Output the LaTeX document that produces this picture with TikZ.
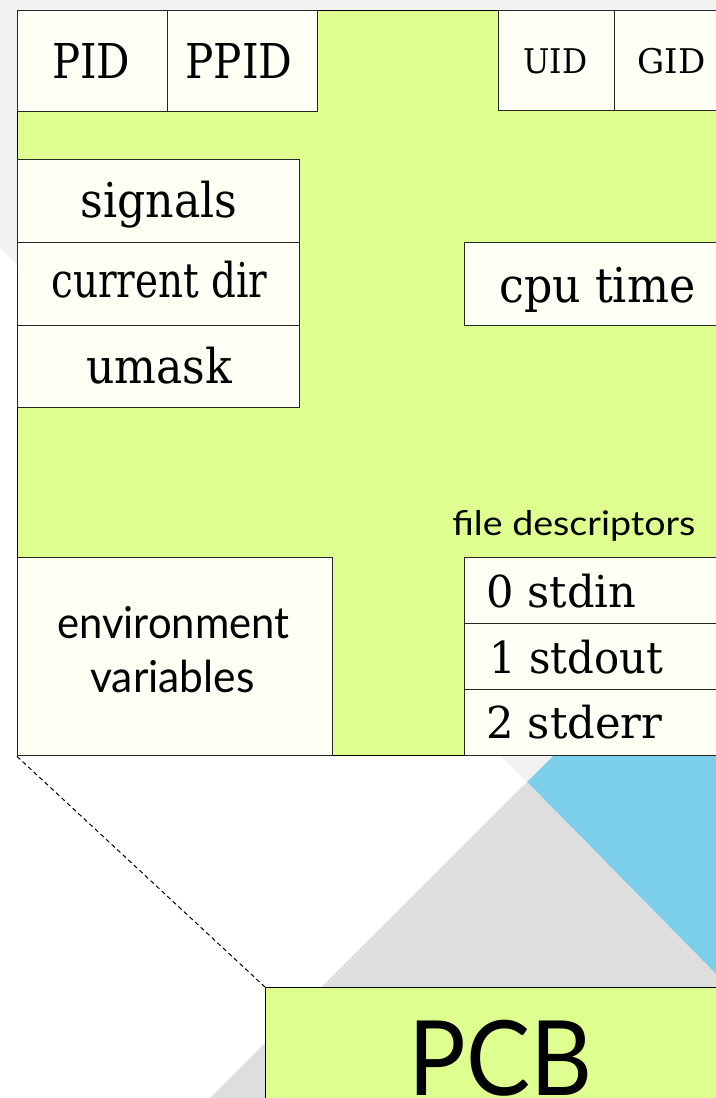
\documentclass[tikz,border=0pt]{standalone}
\usepackage{fontspec}
\usepackage{graphicx}
\setmainfont{DejaVu Serif}
\newfontfamily\sansf{Lato}
\newdimen\px \px=0.5pt
\newcommand{\fitt}[3]{\resizebox{#1\px}{\height}{\fontsize{#2}{#2}\selectfont #3}}
\definecolor{bglight}{HTML}{F2F2F2}
\definecolor{bgdark}{HTML}{DEDEDE}
\definecolor{bgblue}{HTML}{7BCFEA}
\definecolor{pcbgreen}{HTML}{DEFF90}
\definecolor{cellfill}{HTML}{FFFFF6}
\tikzset{
  cell/.style={draw=black!85, line width=0.6pt, fill=cellfill, rectangle, inner sep=0pt, anchor=north west},
  panel/.style={draw=black, line width=0.7pt, fill=pcbgreen, rectangle, inner sep=0pt, anchor=north west},
  txt/.style={inner sep=0pt, anchor=base west},
  link/.style={draw=black, line width=0.5pt, dash pattern=on 2.2pt off 1.6pt}
}
\begin{document}
\begin{tikzpicture}[x=0.5pt,y=-0.5pt]
\useasboundingbox (0,0) rectangle (716,1098);
\clip (0,0) rectangle (716,1098);
% background
\fill[white] (0,0) rectangle (716,1098);
\fill[bglight] (0,0) -- (716,0) -- (716,974) -- (0,248) -- cycle;
\fill[bgblue] (527,782) -- (716,593) -- (716,974) -- cycle;
\fill[bgdark] (527,782) -- (716,974) -- (716,1098) -- (210,1098) -- cycle;
% main panel
\node[panel, minimum width=740\px, minimum height=745\px] (proc) at (17,10) {};
% cells
\node[cell, minimum width=150\px, minimum height=101\px] (pid) at (17,10) {};
\node[cell, minimum width=150\px, minimum height=101\px] (ppid) at (167,10) {};
\node[cell, minimum width=116\px, minimum height=100\px] (uid) at (498,10) {};
\node[cell, minimum width=116\px, minimum height=100\px] (gid) at (614,10) {};
\node[cell, minimum width=282\px, minimum height=83\px] (sig) at (17,159) {};
\node[cell, minimum width=282\px, minimum height=83\px] (cur) at (17,242) {};
\node[cell, minimum width=282\px, minimum height=82\px] (um) at (17,325) {};
\node[cell, minimum width=266\px, minimum height=83\px] (cpu) at (464,242) {};
\node[cell, minimum width=315\px, minimum height=198\px] (env) at (17,557) {};
\node[cell, minimum width=266\px, minimum height=66\px] (fd0) at (464,557) {};
\node[cell, minimum width=266\px, minimum height=66\px] (fd1) at (464,623) {};
\node[cell, minimum width=266\px, minimum height=66\px] (fd2) at (464,689) {};
% texts
\node[txt] (pidT) at (52,78) {\fitt{78}{24pt}{PID}};
\node[txt] (ppidT) at (185,78) {\fitt{107}{24pt}{PPID}};
\node[txt] (uidT) at (523,73) {\fitt{64}{17pt}{UID}};
\node[txt] (gidT) at (637,73) {\fitt{68}{17pt}{GID}};
\node[txt] (sigT) at (80,217) {\fitt{157}{24pt}{signals}};
\node[txt] (curT) at (51,297) {\fitt{216}{24pt}{current dir}};
\node[txt] (umT) at (86,383) {\fitt{146}{24pt}{umask}};
\node[txt] (cpuT) at (499,302) {\fitt{196}{24pt}{cpu time}};
\node[txt] (fdT) at (452,535) {\fitt{243}{17pt}{\sansf file descriptors}};
\node[txt] (fd0T) at (486,607) {\fitt{150}{22pt}{0 stdin}};
\node[txt] (fd1T) at (489,673) {\fitt{174}{22pt}{1 stdout}};
\node[txt] (fd2T) at (486,738) {\fitt{176}{22pt}{2 stderr}};
\node[txt] (envT) at (57,638) {\fitt{232}{22pt}{\sansf environment}};
\node[txt] (varT) at (90,692) {\fitt{164}{22pt}{\sansf variables}};
% PCB box
\node[panel, minimum width=466\px, minimum height=160\px] (pcb) at (265,987) {};
\node[txt] (pcbT) at (408,1095) {\fitt{184}{52pt}{\sansf PCB}};
% dashed connector
\draw[link] (proc.south west) -- (pcb.north west);
\end{tikzpicture}
\end{document}
